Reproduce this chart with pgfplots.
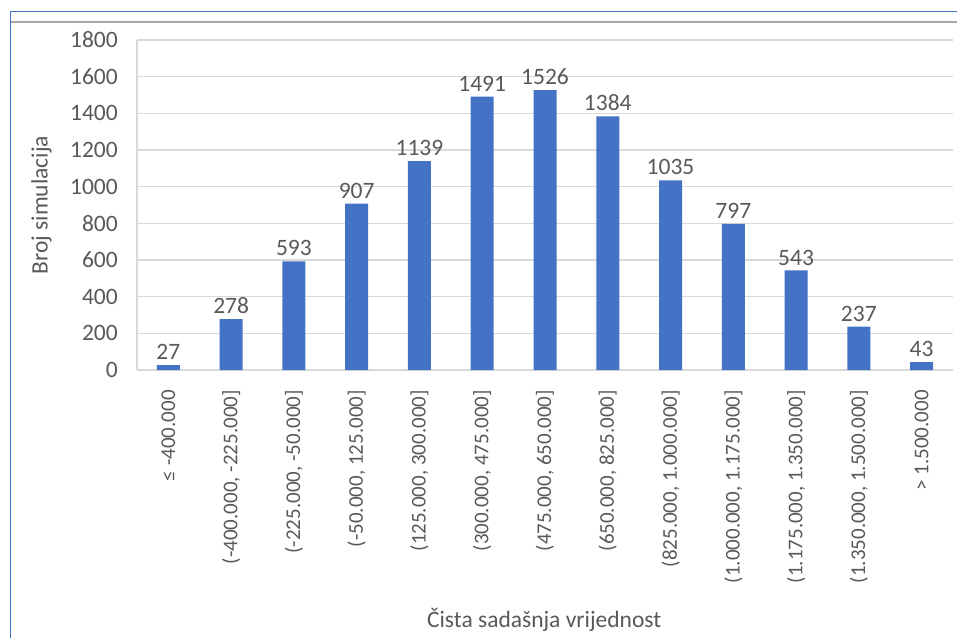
\documentclass[border=0pt]{standalone}
\usepackage{fontspec}
\setmainfont{Carlito}
\newfontfamily\dejavu{DejaVu Sans}
\usepackage{pgfplots}
\pgfplotsset{compat=1.18}
\definecolor{barblue}{HTML}{4472C4}
\definecolor{txt}{HTML}{595959}
\definecolor{grd}{HTML}{D9D9D9}
\newcommand{\fs}{\fontsize{21}{25}\selectfont}
\newcommand{\fb}{\fontsize{23.5}{28}\selectfont}
\begin{document}
\begin{tikzpicture}
\path[use as bounding box] (0,0) rectangle (957pt,-638pt);
\draw[barblue, line width=1pt] (10pt,-638pt) -- (10pt,-11pt) -- (957pt,-11pt);
\draw[black!35, line width=2pt] (10.5pt,-21.5pt) -- (957pt,-21.5pt);
\begin{axis}[
  at={(137pt,-370pt)}, anchor=south west,
  scale only axis, width=816pt, height=330pt,
  ybar, bar width=23pt,
  xmin=-0.5, xmax=12.5, ymin=0, ymax=1800,
  ytick={0,200,...,1800},
  xtick={0,...,12},
  xticklabels={{≤ -400.000},{(-400.000, -225.000]},{(-225.000, -50.000]},{(-50.000, 125.000]},{(125.000, 300.000]},{(300.000, 475.000]},{(475.000, 650.000]},{(650.000, 825.000]},{(825.000, 1.000.000]},{(1.000.000, 1.175.000]},{(1.175.000, 1.350.000]},{(1.350.000, 1.500.000]},{> 1.500.000}},
  /pgf/number format/assume math mode=true,
  /pgf/number format/1000 sep={},
  axis x line*=bottom, axis y line*=left,
  axis line style={grd, line width=1.3pt, -},
  major tick length=0pt,
  ymajorgrids, grid style={grd, line width=1.3pt},
  tick label style={color=txt, inner sep=0pt},
  xticklabel style={rotate=90, anchor=east, font=\fs},
  xticklabel shift=20pt,
  yticklabel style={anchor=east, font=\fb},
  yticklabel shift=19pt,
  nodes near coords,
  nodes near coords style={font=\fb, color=txt, anchor=south, inner sep=5pt},
  xlabel={Čista sadašnja vrijednost},
  ylabel={Broj simulacija},
  label style={font=\fb, color=txt},
  xlabel style={at={(axis description cs:0.499,-0.758)}, anchor=center},
  ylabel style={at={(axis description cs:-0.117,0.5)}, anchor=center, rotate=0},
  clip=false,
]
\addplot[fill=barblue, draw=none] coordinates {
(0,27) (1,278) (2,593) (3,907) (4,1139) (5,1491) (6,1526) (7,1384) (8,1035) (9,797) (10,543) (11,237) (12,43)
};
\end{axis}
\end{tikzpicture}
\end{document}
